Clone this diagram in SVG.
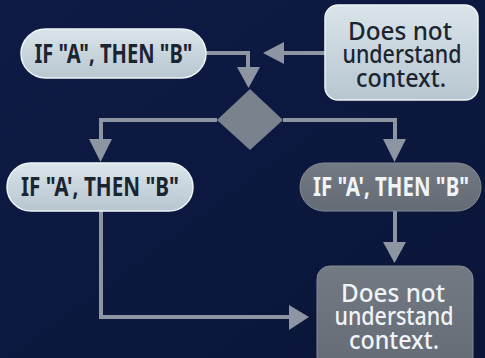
<svg xmlns="http://www.w3.org/2000/svg" width="485" height="358" viewBox="0 0 485 358">
  <defs>
    <linearGradient id="bg" x1="0" y1="0" x2="1" y2="1">
      <stop offset="0" stop-color="#0e1b45"/>
      <stop offset="1" stop-color="#0a1538"/>
    </linearGradient>
    <linearGradient id="light" x1="0" y1="0" x2="0" y2="1">
      <stop offset="0" stop-color="#dae4ea"/>
      <stop offset="1" stop-color="#b7c6d0"/>
    </linearGradient>
    <linearGradient id="dark" x1="0" y1="0" x2="0" y2="1">
      <stop offset="0" stop-color="#737a84"/>
      <stop offset="1" stop-color="#646b75"/>
    </linearGradient>
    <style>
      .conn { fill: none; stroke: #8c95a1; stroke-width: 4; }
      .head { fill: #8c95a1; }
      .lightNode { fill: url(#light); stroke: #eef3f6; stroke-width: 1.5; }
      .darkNode { fill: url(#dark); stroke: #848b95; stroke-width: 1; }
      .t { font-family: "Noto Sans", "Liberation Sans", sans-serif; text-anchor: middle; }
      .ifb { font-size: 27px; font-weight: bold; }
      .dn { font-size: 25px; font-weight: 500; }
      .darkText { fill: #1b2431; }
      .whiteText { fill: #f1f4f7; }
    </style>
  </defs>
  <rect width="485" height="358" fill="url(#bg)"/>

  <g id="connectors">
    <polyline class="conn" points="206,53 248,53 248,70"/>
    <polygon class="head" points="237,67 260,67 248.5,88"/>
    <line class="conn" x1="325" y1="53" x2="282" y2="53"/>
    <polygon class="head" points="263,53 284,42 284,64"/>
    <polyline class="conn" points="217,120 101,120 101,140"/>
    <polygon class="head" points="89,139 112,139 100.5,162"/>
    <polyline class="conn" points="283,120 395,120 395,140"/>
    <polygon class="head" points="383,139 406,139 394.5,162"/>
    <line class="conn" x1="395" y1="211" x2="395" y2="244"/>
    <polygon class="head" points="383,242 406,242 394.5,263"/>
    <polyline class="conn" points="101,211 101,317 291,317"/>
    <polygon class="head" points="289,305 309,317 289,330"/>
  </g>

  <g id="decision">
    <polygon points="250,89 283,120 250,150 217,120" fill="#7a828d"/>
  </g>

  <g id="node-if-top">
    <rect class="lightNode" x="21" y="29" width="185" height="49" rx="24.5"/>
    <text class="t ifb darkText" x="113.5" y="63" textLength="158" lengthAdjust="spacingAndGlyphs">IF "A", THEN "B"</text>
  </g>

  <g id="node-context-top">
    <rect class="lightNode" x="325" y="5" width="153" height="95" rx="13"/>
    <text class="t dn darkText" x="400" y="40" textLength="104" lengthAdjust="spacingAndGlyphs">Does not</text>
    <text class="t dn darkText" x="402" y="63" textLength="119" lengthAdjust="spacingAndGlyphs">understand</text>
    <text class="t dn darkText" x="401" y="87" textLength="90" lengthAdjust="spacingAndGlyphs">context.</text>
  </g>

  <g id="node-if-left">
    <rect class="lightNode" x="7" y="163" width="186" height="48" rx="24"/>
    <text class="t ifb darkText" x="100" y="196" textLength="158" lengthAdjust="spacingAndGlyphs">IF "A', THEN "B"</text>
  </g>

  <g id="node-if-right">
    <rect class="darkNode" x="300" y="163" width="181" height="48" rx="24"/>
    <text class="t ifb whiteText" x="391" y="196" textLength="156" lengthAdjust="spacingAndGlyphs">IF "A', THEN "B"</text>
  </g>

  <g id="node-context-bottom">
    <rect class="darkNode" x="317" y="266" width="156" height="104" rx="13"/>
    <text class="t dn whiteText" x="393" y="302" textLength="104" lengthAdjust="spacingAndGlyphs">Does not</text>
    <text class="t dn whiteText" x="394" y="325" textLength="119" lengthAdjust="spacingAndGlyphs">understand</text>
    <text class="t dn whiteText" x="394" y="349" textLength="90" lengthAdjust="spacingAndGlyphs">context.</text>
  </g>
</svg>
